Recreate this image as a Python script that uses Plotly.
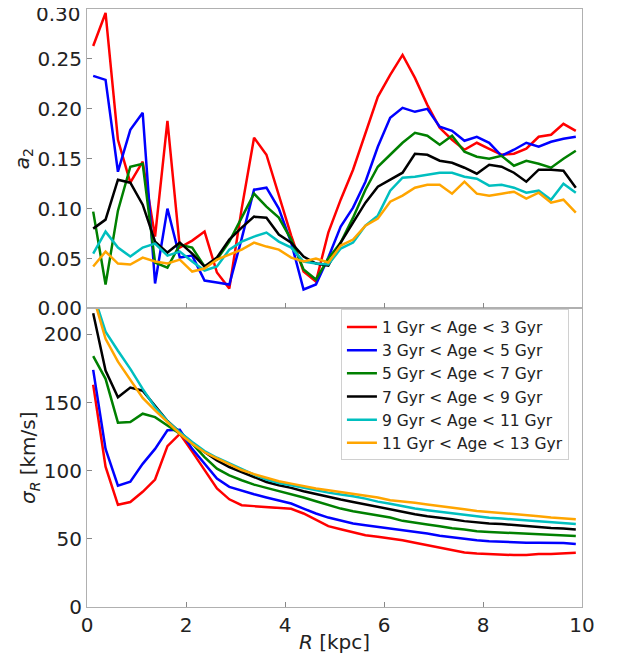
import plotly.graph_objects as go

R_KPC = [0.125, 0.375, 0.625, 0.875, 1.125, 1.375, 1.625, 1.875, 2.125, 2.375,
         2.625, 2.875, 3.125, 3.375, 3.625, 3.875, 4.125, 4.375, 4.625, 4.875,
         5.125, 5.375, 5.625, 5.875, 6.125, 6.375, 6.625, 6.875, 7.125, 7.375,
         7.625, 7.875, 8.125, 8.375, 8.625, 8.875, 9.125, 9.375, 9.625, 9.875]

AGE_LABELS = ["1 Gyr < Age < 3 Gyr", "3 Gyr < Age < 5 Gyr", "5 Gyr < Age < 7 Gyr",
              "7 Gyr < Age < 9 Gyr", "9 Gyr < Age < 11 Gyr", "11 Gyr < Age < 13 Gyr"]
COLORS = ["#ff0000", "#0000ff", "#008000", "#000000", "#00bfbf", "#ffa500"]

A2_AGE_1_3 = [0.263, 0.296, 0.169, 0.126, 0.147, 0.072, 0.188, 0.061, 0.068, 0.077,
              0.036, 0.020, 0.100, 0.171, 0.154, 0.113, 0.073, 0.037, 0.027, 0.076,
              0.109, 0.139, 0.176, 0.212, 0.234, 0.254, 0.231, 0.204, 0.181, 0.169,
              0.159, 0.166, 0.160, 0.154, 0.155, 0.160, 0.172, 0.174, 0.185, 0.178]
A2_AGE_3_5 = [0.233, 0.229, 0.137, 0.179, 0.196, 0.025, 0.100, 0.051, 0.053, 0.028,
              0.026, 0.024, 0.070, 0.119, 0.121, 0.100, 0.066, 0.019, 0.024, 0.051,
              0.082, 0.101, 0.127, 0.162, 0.191, 0.201, 0.197, 0.200, 0.182, 0.178,
              0.168, 0.172, 0.166, 0.153, 0.159, 0.166, 0.162, 0.167, 0.170, 0.172]
A2_AGE_5_7 = [0.097, 0.024, 0.098, 0.142, 0.145, 0.046, 0.041, 0.064, 0.061, 0.042,
              0.049, 0.067, 0.091, 0.115, 0.102, 0.091, 0.069, 0.039, 0.029, 0.050,
              0.066, 0.091, 0.119, 0.142, 0.154, 0.166, 0.176, 0.173, 0.164, 0.173,
              0.157, 0.152, 0.150, 0.153, 0.143, 0.148, 0.145, 0.141, 0.150, 0.158]
A2_AGE_7_9 = [0.080, 0.089, 0.129, 0.126, 0.104, 0.067, 0.056, 0.066, 0.055, 0.042,
              0.051, 0.069, 0.081, 0.092, 0.091, 0.074, 0.066, 0.052, 0.045, 0.043,
              0.066, 0.086, 0.106, 0.122, 0.129, 0.136, 0.155, 0.154, 0.148, 0.146,
              0.141, 0.135, 0.144, 0.142, 0.136, 0.127, 0.139, 0.139, 0.138, 0.121]
A2_AGE_9_11 = [0.055, 0.077, 0.061, 0.052, 0.061, 0.065, 0.053, 0.057, 0.047, 0.038,
               0.042, 0.059, 0.067, 0.072, 0.076, 0.067, 0.061, 0.047, 0.045, 0.044,
               0.060, 0.066, 0.083, 0.093, 0.118, 0.131, 0.132, 0.134, 0.136, 0.136,
               0.132, 0.130, 0.123, 0.124, 0.121, 0.116, 0.118, 0.109, 0.125, 0.116]
A2_AGE_11_13 = [0.042, 0.057, 0.045, 0.044, 0.051, 0.047, 0.045, 0.049, 0.037, 0.040,
                0.049, 0.054, 0.059, 0.066, 0.062, 0.059, 0.051, 0.047, 0.050, 0.046,
                0.063, 0.069, 0.083, 0.090, 0.107, 0.113, 0.121, 0.124, 0.124, 0.115,
                0.127, 0.115, 0.113, 0.115, 0.117, 0.110, 0.116, 0.106, 0.109, 0.096]

SIG_AGE_1_3 = [163, 103, 75, 77, 84.5, 93.5, 118, 127, 114, 100.5,
               87, 79, 74.7, 74, 73.5, 73, 72, 68.6, 63.7, 59.3,
               57, 55, 52.7, 51.5, 50.3, 49, 47.1, 45.4, 43.7, 41.7,
               40, 39.3, 38.8, 38.6, 38.1, 38.1, 38.8, 38.8, 39.3, 39.8]
SIG_AGE_3_5 = [174, 116, 89, 92, 105, 116, 129.6, 130, 116, 105.2,
               94.2, 88.1, 85.2, 82.7, 80.3, 78.3, 75.9, 72.2, 68.6, 65.6,
               63.2, 61.3, 60, 58.8, 57.6, 56.4, 55.1, 53.9, 52.2, 51,
               49.8, 49, 48.3, 47.8, 47.3, 47.1, 47.1, 47.1, 47.0, 46.3]
SIG_AGE_5_7 = [184, 167.4, 135.2, 135.7, 141.8, 139.3, 133.2, 127.1, 119.8, 110,
               101.5, 96.6, 93, 89.8, 87.4, 85.2, 82.7, 80.3, 77.6, 74.7,
               72.2, 70.3, 68.6, 66.9, 65.6, 63.2, 61.7, 60.5, 59.3, 57.8,
               56.9, 55.6, 55.1, 54.7, 53.9, 53.9, 53.2, 53.2, 52.7, 52.0]
SIG_AGE_7_9 = [215.5, 173.5, 153.8, 161, 158.7, 148, 136.5, 128.3, 120.5, 113.7,
               107.6, 102.7, 99.1, 95.4, 91.7, 89.3, 87.4, 84.9, 82.7, 80.8,
               78.8, 77.1, 75.2, 73.4, 71.5, 69.8, 68.1, 66.6, 65.6, 64.4,
               63, 62, 61.3, 60.8, 60, 59.3, 58.8, 58, 57.6, 56.9]
SIG_AGE_9_11 = [230, 202, 188, 174.7, 160, 146.6, 136.4, 128.3, 121, 114.4,
                109.5, 105.2, 100.8, 97.1, 93.5, 91, 89.3, 87.4, 85.6, 83.9,
                82.5, 81.3, 79.5, 77.3, 75.8, 73.9, 72.2, 71, 69.8, 68.6,
                67.3, 66.6, 65.4, 64.9, 64.2, 63.7, 63, 62.5, 61.7, 60.8]
SIG_AGE_11_13 = [228, 196.7, 180, 166.8, 153.4, 144.2, 135.7, 127.1, 119.8, 113.5,
                 109, 104.5, 100.5, 97.5, 94.9, 92.2, 90.5, 88.6, 86.9, 85.6,
                 84.4, 83.2, 82, 80.3, 78.3, 77.6, 76.4, 75.2, 74.2, 73,
                 71.7, 70.5, 69.8, 68.6, 68.3, 67.3, 66.6, 65.6, 64.9, 64.4]

A2_SERIES = [A2_AGE_1_3, A2_AGE_3_5, A2_AGE_5_7, A2_AGE_7_9, A2_AGE_9_11, A2_AGE_11_13]
SIG_SERIES = [SIG_AGE_1_3, SIG_AGE_3_5, SIG_AGE_5_7, SIG_AGE_7_9, SIG_AGE_9_11, SIG_AGE_11_13]

X_TICKS = [0, 2, 4, 6, 8, 10]
A2_TICKS = [0.0, 0.05, 0.10, 0.15, 0.20, 0.25, 0.30]
A2_TICK_TEXT = ["0.00", "0.05", "0.10", "0.15", "0.20", "0.25", "0.30"]
SIG_TICKS = [0, 50, 100, 150, 200]

FONT = "DejaVu Sans"
TICK_FONT = dict(family=FONT, size=20, color="#222222")
fig = go.Figure()

for lab, col, a2, sig in zip(AGE_LABELS, COLORS, A2_SERIES, SIG_SERIES):
    fig.add_trace(go.Scatter(x=R_KPC, y=a2, mode="lines", name=lab,
                             line=dict(color=col, width=2.5),
                             xaxis="x2", yaxis="y2", showlegend=False))
    fig.add_trace(go.Scatter(x=R_KPC, y=sig, mode="lines", name=lab,
                             line=dict(color=col, width=2.5),
                             xaxis="x", yaxis="y"))

axis_common = dict(showline=True, linecolor="#b0b0b0", linewidth=1, mirror=True,
                   ticks="inside", ticklen=5, tickcolor="#888888", tickwidth=1,
                   showgrid=False, zeroline=False, tickfont=TICK_FONT)

# the top label of the a2 axis sits slightly below its tick in the reference
top_text = [t if v < 0.3 else "" for v, t in zip(A2_TICKS, A2_TICK_TEXT)]

fig.update_layout(
    width=603, height=646,
    margin=dict(l=79, r=29, t=1, b=47),
    paper_bgcolor="white", plot_bgcolor="white",
    font=dict(family=FONT, color="#222222"),
    xaxis=dict(domain=[0, 1], range=[0, 10], tickvals=X_TICKS, anchor="y",
               title=dict(text="<i>R</i> [kpc]", font=dict(family=FONT, size=20),
                          standoff=1),
               **axis_common),
    yaxis=dict(domain=[0, 0.4992], range=[0, 219], tickvals=SIG_TICKS, anchor="x",
               title=dict(text="<i>σ</i><sub><i>R</i></sub> [km/s]",
                          font=dict(family=FONT, size=20), standoff=2),
               **axis_common),
    xaxis2=dict(domain=[0, 1], range=[0, 10], tickvals=X_TICKS, anchor="y2",
                showticklabels=False, **axis_common),
    yaxis2=dict(domain=[0.4992, 1], range=[0, 0.3], tickvals=A2_TICKS,
                ticktext=top_text, anchor="x2",
                title=dict(text="<i>a</i><sub>2</sub>",
                           font=dict(family=FONT, size=20), standoff=2),
                **axis_common),
    legend=dict(x=0.513, y=0.4975, xanchor="left", yanchor="top",
                bgcolor="white", bordercolor="#d0d0d0", borderwidth=1,
                font=dict(family=FONT, size=15.5, color="#222222")),
    annotations=[dict(x=0, y=A2_TICKS[-1], xref="x2", yref="y2",
                      text=A2_TICK_TEXT[-1], showarrow=False,
                      xanchor="right", yanchor="middle", xshift=-4, yshift=-5,
                      font=TICK_FONT)],
)

fig.write_html("out.html")
